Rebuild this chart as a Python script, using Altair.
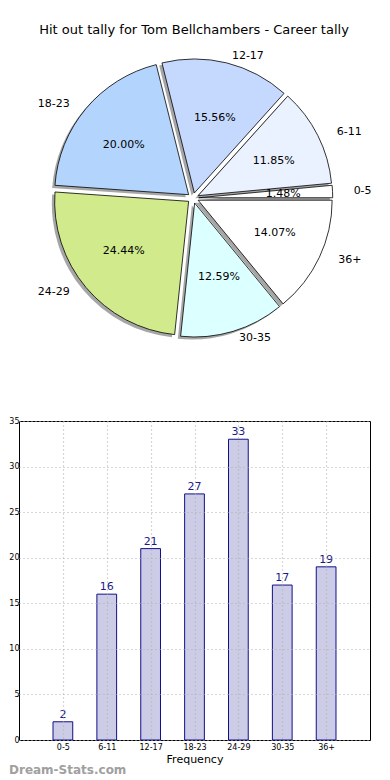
import altair as alt
import pandas as pd

# ---------------- data ----------------
categories = ["0-5", "6-11", "12-17", "18-23", "24-29", "30-35", "36+"]
counts = [2, 16, 21, 27, 33, 17, 19]
slice_colors = ["#ffffff", "#eaf1ff", "#c5d9fe", "#b3d5fd", "#d1ea8c", "#dcffff", "#ffffff"]
y_ticks = [0, 5, 10, 15, 20, 25, 30, 35]
title_text = "Hit out tally for Tom Bellchambers - Career tally"
x_title = "Frequency"
watermark = "Dream-Stats.com"

df = pd.DataFrame({
    "cat": categories,
    "count": counts,
    "idx": list(range(len(categories))),
    "color": slice_colors,
})

FONT = "DejaVu Sans"

# ---------------- pie geometry (pixels in pie panel) ----------------
CX, CY = 174, 190      # pie centre
R = 134                # arc radius
RX, RY = 141, 128      # label ellipse radii
EX, EY = 5.7, 5.2      # explode offsets
SX, SY = -2.8, 2.6     # shadow offset

pie_base = (
    alt.Chart(df)
    .transform_window(cum="sum(count)", sort=[alt.SortField("idx")], frame=[None, 0])
    .transform_joinaggregate(total="sum(count)")
    .transform_calculate(
        a1="2*PI*(datum.cum - datum.count)/datum.total",
        a2="2*PI*datum.cum/datum.total",
    )
    .transform_calculate(
        m="(datum.a1 + datum.a2)/2",
        t1="2.5*PI - datum.a2",
        t2="2.5*PI - datum.a1",
        pct="format(100*datum.count/datum.total, '.2f') + '%'",
    )
    .transform_calculate(
        cx=f"{CX} + {EX}*cos(datum.m)",
        cy=f"{CY} - {EY}*sin(datum.m)",
    )
    .transform_calculate(
        sx=f"datum.cx + ({SX})",
        sy=f"datum.cy + ({SY})",
        lx=f"datum.cx + {RX}*1.1*cos(datum.m)",
        ly=f"datum.cy - {RY}*1.1*sin(datum.m)",
        px=f"datum.cx + {RX}*0.6*cos(datum.m)",
        py=f"datum.cy - {RY}*0.6*sin(datum.m)",
        side="cos(datum.m) >= 0 ? 'right' : 'left'",
    )
)

shadow = pie_base.mark_arc(radius=R, color="#4d4d4d", opacity=0.5).encode(
    x=alt.X("sx:Q", scale=None),
    y=alt.Y("sy:Q", scale=None),
    theta=alt.Theta("t1:Q", scale=None),
    theta2="t2:Q",
)

wedges = pie_base.mark_arc(radius=R, stroke="#000000", strokeWidth=0.8).encode(
    x=alt.X("cx:Q", scale=None),
    y=alt.Y("cy:Q", scale=None),
    theta=alt.Theta("t1:Q", scale=None),
    theta2="t2:Q",
    color=alt.Color("color:N", scale=None),
)

labels_r = pie_base.transform_filter("datum.side == 'right'").mark_text(
    align="left", baseline="middle", fontSize=11, font=FONT, color="#000000"
).encode(x=alt.X("lx:Q", scale=None), y=alt.Y("ly:Q", scale=None), text="cat:N")

labels_l = pie_base.transform_filter("datum.side == 'left'").mark_text(
    align="right", baseline="middle", fontSize=11, font=FONT, color="#000000"
).encode(x=alt.X("lx:Q", scale=None), y=alt.Y("ly:Q", scale=None), text="cat:N")

pcts = pie_base.mark_text(
    align="center", baseline="middle", fontSize=11, font=FONT, color="#000000"
).encode(x=alt.X("px:Q", scale=None), y=alt.Y("py:Q", scale=None), text="pct:N")

title = alt.Chart(pd.DataFrame({"t": [title_text]})).mark_text(
    align="center", baseline="middle", fontSize=13, font=FONT, color="#000000"
).encode(text="t:N", x=alt.value(175), y=alt.value(22))

pie = alt.layer(shadow, wedges, labels_r, labels_l, pcts, title).properties(
    width=351, height=398, view=alt.ViewBackground(stroke="transparent")
)

# ---------------- bar chart ----------------
label_expr = "[" + ",".join(f"'{c}'" for c in categories) + "][datum.value]"

bar_base = alt.Chart(df).transform_calculate(
    x1="datum.idx - 0.225", x2="datum.idx + 0.225"
)

bars = bar_base.mark_bar(fill="#ccccE6", stroke="#10108a", strokeWidth=1).encode(
    x=alt.X(
        "x1:Q",
        scale=alt.Scale(domain=[-1, 7], nice=False, zero=False),
        axis=alt.Axis(
            values=list(range(len(categories))),
            labelExpr=label_expr,
            title=x_title,
            titleFontSize=11,
            titleFontWeight="normal",
            titlePadding=2,
            titleColor="#000000",
            labelFontSize=8,
            labelColor="#000000",
            labelPadding=3,
            ticks=False,
            domain=False,
            grid=True,
            gridDash=[1, 3],
            gridColor="#b0b0b0",
            gridWidth=1.2,
            zindex=1,
        ),
    ),
    x2="x2:Q",
    y=alt.Y(
        "count:Q",
        scale=alt.Scale(domain=[0, 35], nice=False),
        axis=alt.Axis(
            values=y_ticks,
            title=None,
            labelFontSize=8,
            labelColor="#000000",
            labelPadding=0,
            ticks=False,
            domain=False,
            grid=True,
            gridDash=[1, 3],
            gridColor="#b0b0b0",
            gridWidth=1.2,
            zindex=1,
        ),
    ),
    y2=alt.datum(0),
)

bar_text = bar_base.mark_text(
    dy=-2, baseline="bottom", align="center", fontSize=11, font=FONT, color="#1a1a8c"
).encode(x="idx:Q", y="count:Q", text="count:Q")

wm = alt.Chart(pd.DataFrame({"t": [watermark]})).mark_text(
    align="left", baseline="middle", fontSize=12, font=FONT, color="#a0a0a0", fontWeight="bold"
).encode(text="t:N", x=alt.value(-10), y=alt.value(349))

bar_chart = alt.layer(bars, bar_text, wm).properties(
    width=351, height=319, view=alt.ViewBackground(stroke="#000000", strokeWidth=1)
)

chart = (
    alt.vconcat(pie, bar_chart, spacing=10)
    .properties(padding=0)
    .configure(font=FONT)
    .configure_view(strokeWidth=0)
)

chart.save("out.html", embed_options={"renderer": "svg", "actions": False})
